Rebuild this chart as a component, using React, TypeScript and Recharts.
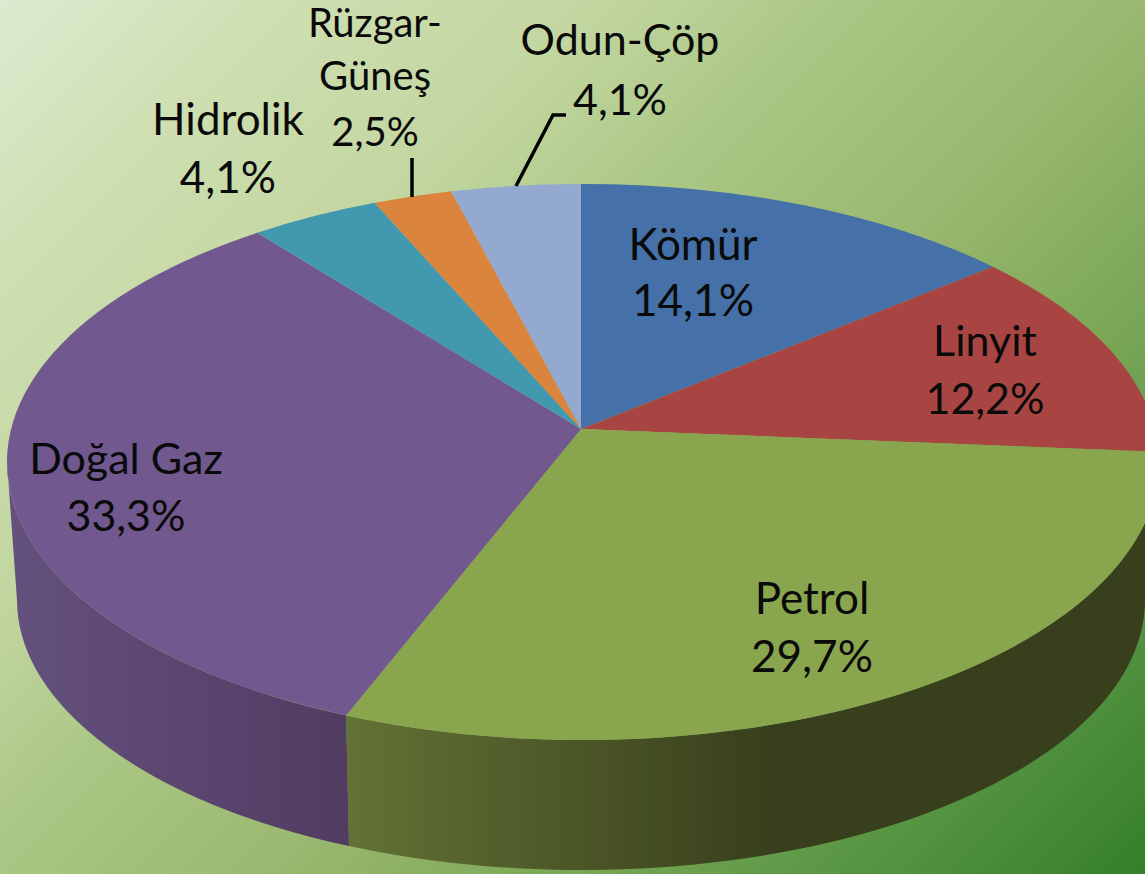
import { PieChart, Pie } from "recharts"

const categories = ["Kömür", "Linyit", "Petrol", "Doğal Gaz", "Hidrolik", "Rüzgar-Güneş", "Odun-Çöp"]
const shares = [14.1, 12.2, 29.7, 33.3, 4.1, 2.5, 4.1]
const topColors = ["#4570a8", "#a84542", "#89a54e", "#71588f", "#4198af", "#db843d", "#93a9cf"]
const wallStart = ["#35557f", "#7e3432", "#637235", "#63507c", "#2f6f82", "#a5632e", "#6f809c"]
const wallEnd = ["#35557f", "#7e3432", "#383f1c", "#513c62", "#2f6f82", "#a5632e", "#6f809c"]

const tableData = categories.map((name, i) => ({ name, value: shares[i], fill: topColors[i] }))

const WIDTH = 1145
const HEIGHT = 874
const APEX = { x: 581, y: 429 }
const TOP = { cx: 583, cy: 462, rx: 576, ry: 278 }
const BOTTOM = { cx: 581, cy: 600, rx: 564, ry: 270 }

// label placement: centre x, font size and one baseline per line
const labelLayout: Record<string, { x: number; size: number; lines: string[]; ys: number[] }> = {
  "Kömür": { x: 693, size: 44, lines: ["Kömür"], ys: [260, 316] },
  "Linyit": { x: 985, size: 43, lines: ["Linyit"], ys: [356, 414] },
  "Petrol": { x: 812, size: 44, lines: ["Petrol"], ys: [614, 672] },
  "Doğal Gaz": { x: 126, size: 43, lines: ["Doğal Gaz"], ys: [474, 531] },
  "Hidrolik": { x: 228, size: 44, lines: ["Hidrolik"], ys: [135, 193] },
  "Rüzgar-Güneş": { x: 375, size: 40, lines: ["Rüzgar-", "Güneş"], ys: [37, 90, 146] },
  "Odun-Çöp": { x: 620, size: 43, lines: ["Odun-Çöp"], ys: [55, 115] },
}
const leaders: Record<string, string> = {
  "Rüzgar-Güneş": "M412 158 L412 197",
  "Odun-Çöp": "M516 186 L553 115 L566 115",
}

// angle in degrees -> ellipse parameter where the ray from the apex hits the top rim
function rimParam(angle: number) {
  const rad = (angle * Math.PI) / 180
  const dx = TOP.rx * Math.cos(rad)
  const dy = -TOP.ry * Math.sin(rad)
  const ox = (APEX.x - TOP.cx) / TOP.rx
  const oy = (APEX.y - TOP.cy) / TOP.ry
  const ux = dx / TOP.rx
  const uy = dy / TOP.ry
  const a = ux * ux + uy * uy
  const b = 2 * (ox * ux + oy * uy)
  const c = ox * ox + oy * oy - 1
  const s = (-b + Math.sqrt(b * b - 4 * a * c)) / (2 * a)
  return Math.atan2(oy + s * uy, ox + s * ux)
}

function onEllipse(e: typeof TOP, t: number) {
  return { x: e.cx + e.rx * Math.cos(t), y: e.cy + e.ry * Math.sin(t) }
}

function PieSlice(props: any) {
  const { startAngle, endAngle, index } = props
  let t1 = rimParam(startAngle)
  let t2 = rimParam(endAngle)
  if (t1 < 0) t1 += Math.PI * 2
  while (t2 < t1) t2 += Math.PI * 2

  const p1 = onEllipse(TOP, t1)
  const p2 = onEllipse(TOP, t2)
  const large = t2 - t1 > Math.PI ? 1 : 0
  const face = `M${APEX.x} ${APEX.y} L${p1.x} ${p1.y} A${TOP.rx} ${TOP.ry} 0 ${large} 1 ${p2.x} ${p2.y} Z`

  // side wall only where the rim faces the viewer
  let w1 = t1
  let w2 = Math.min(t2, Math.PI)
  if (t1 >= Math.PI) {
    w1 = Math.max(t1, Math.PI * 2)
    w2 = Math.min(t2, Math.PI * 3)
  }
  let wall = null
  if (w2 > w1) {
    const a = onEllipse(TOP, w1)
    const b = onEllipse(TOP, w2)
    const c = onEllipse(BOTTOM, w2)
    const d = onEllipse(BOTTOM, w1)
    const path = `M${a.x} ${a.y} A${TOP.rx} ${TOP.ry} 0 0 1 ${b.x} ${b.y} L${c.x} ${c.y} A${BOTTOM.rx} ${BOTTOM.ry} 0 0 0 ${d.x} ${d.y} Z`
    const id = `wall-${index}`
    const isPetrol = index === 2
    wall = (
      <g>
        <defs>
          <linearGradient
            id={id}
            gradientUnits="userSpaceOnUse"
            x1={isPetrol ? 345 : 20}
            x2={isPetrol ? 770 : 345}
            y1={0}
            y2={0}
          >
            <stop offset="0%" stopColor={wallStart[index]} />
            <stop offset="100%" stopColor={wallEnd[index]} />
          </linearGradient>
        </defs>
        <path d={path} fill={`url(#${id})`} />
      </g>
    )
  }

  return (
    <g>
      {wall}
      <path d={face} fill={topColors[index]} />
    </g>
  )
}

function SliceLabel(props: any) {
  const { name, value } = props
  const layout = labelLayout[name]
  const lines = [...layout.lines, value.toFixed(1).replace(".", ",") + "%"]
  return (
    <g>
      {leaders[name] && <path d={leaders[name]} fill="none" stroke="#000" strokeWidth={3.5} />}
      {lines.map((line, i) => (
        <text
          key={line}
          x={layout.x}
          y={layout.ys[i]}
          textAnchor="middle"
          fontFamily="Lato, sans-serif"
          fontSize={layout.size}
          fill="#0a0a0a"
        >
          {line}
        </text>
      ))}
    </g>
  )
}

export default function App() {
  return (
    <div
      style={{
        position: "absolute",
        left: 0,
        top: 0,
        width: WIDTH,
        height: HEIGHT,
        overflow: "hidden",
        background:
          "linear-gradient(135deg, #dcebd0 0%, #cedeb0 15%, #c2d6a0 30%, #aac785 42%, #9ab86f 57%, #79a655 72%, #5f9a48 82%, #4c8e3c 90%, #357e2b 100%)",
      }}
    >
      <PieChart width={WIDTH} height={HEIGHT} margin={{ top: 0, right: 0, bottom: 0, left: 0 }}>
        <Pie
          data={tableData}
          dataKey="value"
          nameKey="name"
          cx={APEX.x}
          cy={APEX.y}
          innerRadius={0}
          outerRadius={TOP.rx}
          startAngle={90}
          endAngle={-270}
          stroke="none"
          shape={PieSlice}
          label={SliceLabel}
          labelLine={false}
          isAnimationActive={false}
        />
      </PieChart>
    </div>
  )
}
